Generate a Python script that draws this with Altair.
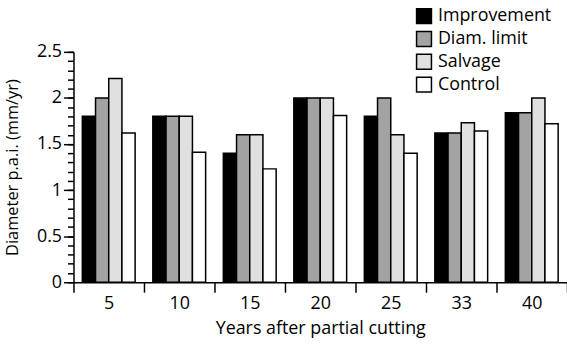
import altair as alt
import pandas as pd

years = ["5", "10", "15", "20", "25", "33", "40"]
treatments = ["Improvement", "Diam. limit", "Salvage", "Control"]
improvement = [1.8, 1.8, 1.4, 2.0, 1.8, 1.62, 1.84]
diam_limit = [2.0, 1.8, 1.6, 2.0, 2.0, 1.62, 1.84]
salvage = [2.21, 1.8, 1.6, 2.0, 1.6, 1.73, 2.0]
control = [1.62, 1.41, 1.23, 1.81, 1.4, 1.64, 1.72]
colors = ["#000000", "#a3a3a3", "#e0e0e0", "#ffffff"]

series = [improvement, diam_limit, salvage, control]
rows = []
for t, vals in zip(treatments, series):
    for y, v in zip(years, vals):
        rows.append({"year": y, "treatment": t, "value": v})
df = pd.DataFrame(rows)

FONT = "Open Sans"

base = alt.Chart(df)

x_enc = alt.X(
    "year:N", sort=years,
    scale=alt.Scale(paddingInner=0, paddingOuter=0),
    axis=alt.Axis(
        title="Years after partial cutting", tickBand="extent",
        tickSize=10, labelPadding=2, labelAngle=0,
        titleY=47, titleBaseline="middle", titleFontSize=18,
    ),
)
xoff = alt.XOffset("treatment:N", sort=treatments,
                   scale=alt.Scale(paddingInner=0, paddingOuter=0.67))

bars = base.mark_bar(stroke="black", strokeWidth=1.5).encode(
    x=x_enc,
    xOffset=xoff,
    y=alt.Y("value:Q", scale=alt.Scale(domain=[0, 2.5]),
            axis=alt.Axis(title="Diameter p.a.i. (mm/yr)", format="~g",
                          values=[0, 0.5, 1, 1.5, 2, 2.5], tickSize=10,
                          labelPadding=2, orient="left", titleFontSize=16.5,
                          titleX=-61, titleBaseline="middle")),
    color=alt.Color("treatment:N", sort=treatments,
                    scale=alt.Scale(domain=treatments, range=colors),
                    legend=alt.Legend(title=None, orient="none", legendX=344, legendY=-45,
                                      symbolType="square", symbolSize=225,
                                      symbolStrokeColor="black", symbolStrokeWidth=1.5,
                                      labelFontSize=18, labelFont=FONT, rowPadding=1,
                                      labelOffset=5,
                                      symbolOpacity=1, labelLimit=300)),
)

minor = base.mark_bar(opacity=0).encode(
    x=x_enc,
    xOffset=xoff,
    y=alt.Y("value:Q", scale=alt.Scale(domain=[0, 2.5]),
            axis=alt.Axis(title=None, values=[round(i * 0.1, 1) for i in range(26)],
                          tickSize=6, labels=False, domain=False, orient="left")),
)

chart = alt.layer(bars, minor).resolve_axis(y="independent").properties(
    width=497, height=232,
    autosize=alt.AutoSizeParams(type="none"),
    padding={"left": 74, "top": 51, "right": 0, "bottom": 61},
).configure_view(stroke=None).configure_axis(
    domainColor="black", tickColor="black", domainWidth=1.5, tickWidth=1.5,
    labelFont=FONT, titleFont=FONT, labelFontSize=18,
    labelColor="black", titleColor="black", titleFontWeight="normal", grid=False,
)

chart.save("out.html", embed_options={"renderer": "svg", "actions": False})
